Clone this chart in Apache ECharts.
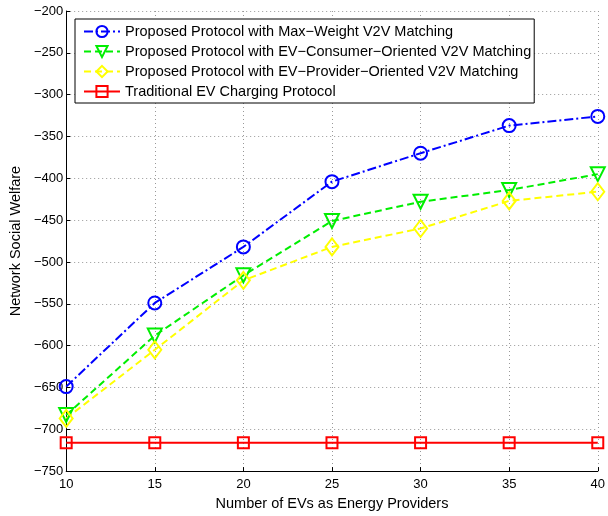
<!DOCTYPE html>
<html><head><meta charset="utf-8">
<script src="https://cdn.jsdelivr.net/npm/echarts@6/dist/echarts.min.js"></script>
<style>html,body{margin:0;padding:0;background:#fff}#c{width:608px;height:516px}</style>
</head><body><div id="c"></div>
<script>
const xValues = [10, 15, 20, 25, 30, 35, 40];
const maxWeight = [-649, -549, -482, -404, -370, -337, -326];
const consumerOriented = [-683, -588, -516, -451, -428, -414, -395];
const providerOriented = [-687, -605, -522, -482, -460, -427, -416];
const traditional = [-716, -716, -716, -716, -716, -716, -716];
const seriesNames = [
  'Proposed Protocol with Max\u2212Weight V2V Matching',
  'Proposed Protocol with EV\u2212Consumer\u2212Oriented V2V Matching',
  'Proposed Protocol with EV\u2212Provider\u2212Oriented V2V Matching',
  'Traditional EV Charging Protocol'
];
const xTicks = [10, 15, 20, 25, 30, 35, 40];
const yTicks = [-750, -700, -650, -600, -550, -500, -450, -400, -350, -300, -250, -200];

const font = 'Liberation Sans, Arial, Helvetica, sans-serif';
const pairs = a => xValues.map((x, i) => [x, a[i]]);
const minus = v => String(v).replace('-', '\u2212');

function mk(name, data, color, symbol, size, lineType, rotate) {
  return {
    name, type: 'line', data: pairs(data), symbol, symbolSize: size, symbolRotate: rotate || 0,
    showAllSymbol: true,
    lineStyle: { color, width: 2, type: lineType },
    itemStyle: { color: 'rgba(255,255,255,0)', borderColor: color, borderWidth: 2 },
    emphasis: { disabled: true }, animation: false
  };
}

const chart = echarts.init(document.getElementById('c'), null, { renderer: 'canvas' });
chart.setOption({
  backgroundColor: '#fff',
  animation: false,
  grid: { left: 63, right: 9, top: 11, bottom: 37 },
  legend: {
    left: 75, top: 19, orient: 'vertical',
    backgroundColor: '#fff', borderColor: '#000', borderWidth: 1, borderRadius: 0,
    padding: [5, 3, 4, 8],
    itemWidth: 36, itemHeight: 14, itemGap: 5,
    textStyle: { fontFamily: font, fontSize: 14.5, color: '#000' },
    data: seriesNames
  },
  xAxis: {
    type: 'value', min: 10, max: 40, interval: 5,
    name: 'Number of EVs as Energy Providers', nameLocation: 'middle', nameGap: 21,
    nameTextStyle: { fontFamily: font, fontSize: 14.5, color: '#000' },
    axisLine: { lineStyle: { color: '#000', width: 1 } },
    axisTick: { inside: true, length: 4, lineStyle: { color: '#000' } },
    axisLabel: { fontFamily: font, fontSize: 13, color: '#000', margin: 7 },
    splitLine: { show: true, lineStyle: { color: '#999', type: [1, 3], width: 1 } }
  },
  yAxis: {
    type: 'value', min: -750, max: -200, interval: 50,
    name: 'Network Social Welfare', nameLocation: 'middle', nameGap: 39, nameRotate: 90,
    nameTextStyle: { fontFamily: font, fontSize: 14.5, color: '#000' },
    axisLine: { show: true, lineStyle: { color: '#000', width: 1 } },
    axisTick: { show: true, inside: true, length: 4, lineStyle: { color: '#000' } },
    axisLabel: { fontFamily: font, fontSize: 13, color: '#000', margin: 3, formatter: v => minus(v) },
    splitLine: { show: true, lineStyle: { color: '#999', type: [1, 3], width: 1 } }
  },
  series: [
    mk(seriesNames[0], maxWeight, '#0000ff', 'circle', 13, [9, 3, 2, 3]),
    mk(seriesNames[1], consumerOriented, '#00ee00', 'triangle', 14, [7, 4], 180),
    mk(seriesNames[2], providerOriented, '#ffff00', 'diamond', [13, 17], [7, 4]),
    mk(seriesNames[3], traditional, '#ff0000', 'rect', 11, 'solid')
  ]
});
</script></body></html>
